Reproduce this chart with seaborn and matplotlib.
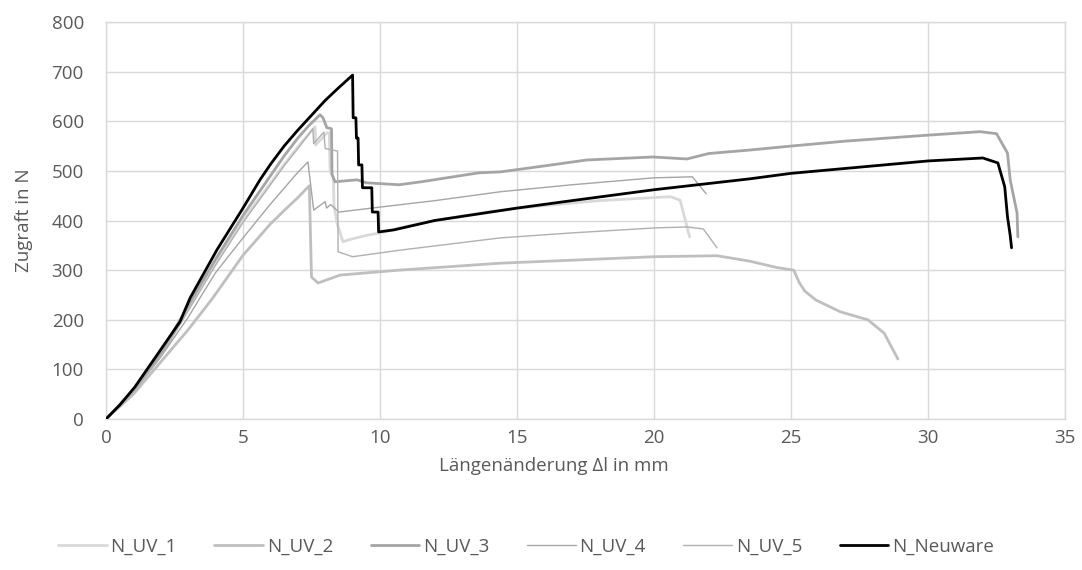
import matplotlib
matplotlib.use("Agg")
import matplotlib.pyplot as plt
import seaborn as sns
import pandas as pd

# ---- data ----
series_names = ["N_UV_1", "N_UV_2", "N_UV_3", "N_UV_4", "N_UV_5", "N_Neuware"]

x_uv1 = [0, 1, 2, 3, 4, 5, 6, 6.5, 7, 7.63, 7.65, 8.07, 8.15, 8.18, 8.3, 8.32, 8.43, 8.65, 8.85,
         9.5, 10, 10.7, 12, 14, 15.6, 18, 20.6, 20.95, 21.1, 21.3]
y_uv1 = [0, 57, 128, 222, 315, 400, 475, 513, 548, 589, 552, 577, 577, 498, 488, 431, 395, 357, 361,
         370, 375, 385, 400, 418, 428, 440, 448, 441, 410, 367]

x_uv2 = [0, 1, 2, 3, 3.9, 5, 6, 6.5, 7, 7.42, 7.5, 7.74, 8.54, 10.7, 14.4, 17, 20, 22.3, 23.5,
         24.5, 25.1, 25.3, 25.5, 25.9, 26.8, 27.8, 28.4, 28.9]
y_uv2 = [0, 50, 115, 180, 244, 330, 393, 420, 446, 470, 286, 274, 290, 300, 314, 320, 327, 329, 318,
         305, 300, 275, 258, 240, 216, 200, 173, 121]

x_uv3 = [0, 1, 2, 3, 4, 5, 6, 6.5, 7, 7.4, 7.81, 7.92, 8.06, 8.23, 8.25, 8.36, 9.16, 9.5, 10.7,
         11.5, 13.6, 14.4, 16, 17.55, 19.96, 21.2, 22, 23.5, 25, 27, 30, 31.9, 32.5, 32.9, 33.0,
         33.25, 33.28]
y_uv3 = [0, 58, 133, 228, 322, 410, 490, 530, 566, 591, 613, 607, 587, 585, 492, 478, 482, 476, 472,
         478, 496, 498, 510, 522, 528, 524, 535, 542, 550, 560, 572, 579, 575, 536, 482,
         415, 367]

x_uv4 = [0, 1, 2, 3, 3.43, 4, 5, 6, 7, 7.37, 7.58, 8.0, 8.05, 8.2, 8.5, 10, 12, 14.4, 17,
         20, 21.4, 21.9]
y_uv4 = [0, 55, 125, 205, 244, 295, 365, 433, 497, 518, 421, 438, 425, 432, 417, 427, 440, 458, 472,
         486, 488, 454]

x_uv5 = [0, 1, 2, 3, 4, 5, 6, 6.5, 7, 7.55, 7.58, 7.95, 8.0, 8.45, 8.47, 9.0, 10.7, 14.4, 17, 20,
         21.2, 21.8, 22.3]
y_uv5 = [0, 55, 126, 218, 310, 396, 472, 510, 545, 585, 555, 578, 545, 540, 337, 327, 340, 365, 375,
         385, 387, 383, 345]

x_neu = [0, 0.5, 1.06, 2, 2.7, 3.07, 4.05, 5, 5.62, 6, 6.5, 7, 7.5, 8, 8.5, 9.0, 9.02, 9.12,
         9.14, 9.2, 9.22, 9.34, 9.36, 9.7, 9.72, 9.93, 9.95, 10.5, 12, 15, 17, 20, 23.5, 25, 28,
         30, 32, 32.55, 32.8, 32.9, 33.0, 33.05]
y_neu = [0, 28, 65, 140, 196, 244, 341, 425, 482, 513, 550, 582, 612, 642, 668, 693, 607, 607,
         566, 566, 512, 512, 466, 466, 417, 417, 377, 381, 400, 425, 440, 462, 484, 495, 510,
         520, 526, 516, 468, 408, 370, 345]

x_ticks = [0, 5, 10, 15, 20, 25, 30, 35]
y_ticks = [0, 100, 200, 300, 400, 500, 600, 700, 800]

x_data = [x_uv1, x_uv2, x_uv3, x_uv4, x_uv5, x_neu]
y_data = [y_uv1, y_uv2, y_uv3, y_uv4, y_uv5, y_neu]

colors = {"N_UV_1": "#d9d9d9", "N_UV_2": "#bfbfbf", "N_UV_3": "#a5a5a5",
          "N_UV_4": "#a5a5a5", "N_UV_5": "#b0b0b0", "N_Neuware": "#000000"}
widths = {"N_UV_1": 2.0, "N_UV_2": 2.0, "N_UV_3": 2.0,
          "N_UV_4": 1.0, "N_UV_5": 1.0, "N_Neuware": 2.0}

sns.set_theme(style="white")
plt.rcParams["font.family"] = ["Open Sans", "DejaVu Sans"]
text_color = "#595959"

fig = plt.figure(figsize=(10.82, 5.70), dpi=100)
ax = fig.add_axes([106 / 1082, 1 - 419 / 570, (1065 - 106) / 1082, (419 - 22) / 570])

for name, xs, ys in zip(series_names, x_data, y_data):
    df = pd.DataFrame({"x": xs, "y": ys})
    sns.lineplot(data=df, x="x", y="y", ax=ax, sort=False, estimator=None,
                 color=colors[name], linewidth=widths[name], label=name,
                 zorder=5 if name == "N_Neuware" else 3)

ax.set_xlim(0, 35)
ax.set_ylim(0, 800)
ax.set_xticks(x_ticks)
ax.set_yticks(y_ticks)
ax.grid(True, color="#d9d9d9", linewidth=1.0)
for s in ax.spines.values():
    s.set_visible(True)
    s.set_color("#d9d9d9")
    s.set_linewidth(1.0)
ax.tick_params(axis="both", length=0, labelsize=13.5, labelcolor=text_color)
ax.tick_params(axis="y", pad=16)
ax.tick_params(axis="x", pad=7)
ax.set_xlabel("Längenänderung Δl in mm", fontsize=13.5, color=text_color)
ax.set_ylabel("Zugraft in N", fontsize=13.5, color=text_color)
ax.xaxis.set_label_coords(0.467, -0.095)
ax.yaxis.set_label_coords(-0.0766, 0.5)

handles, labels = ax.get_legend_handles_labels()
ax.get_legend().remove()
fig.legend(handles, labels, loc="center", bbox_to_anchor=(526 / 1082, 1 - 547 / 570),
           ncol=6, frameon=False, fontsize=13.5, handlelength=2.6, handletextpad=0.2,
           columnspacing=2.0, labelcolor=text_color)

fig.savefig("out.png", dpi=100)
